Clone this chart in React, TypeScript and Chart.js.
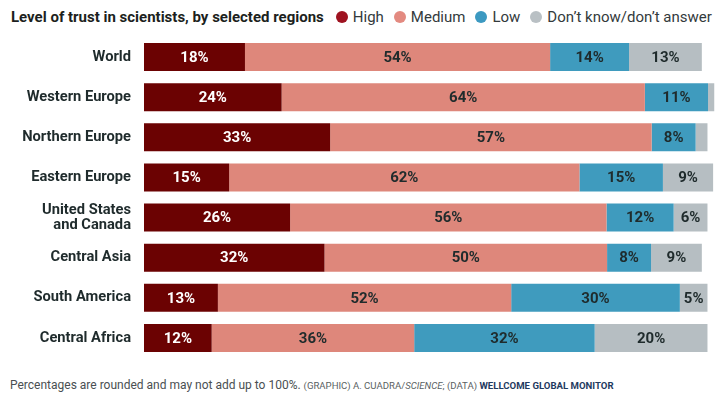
import React, { useEffect, useRef } from "react";
import { Chart, registerables } from "chart.js";

Chart.register(...registerables);

const regions: (string | string[])[] = [
  "World",
  "Western Europe",
  "Northern Europe",
  "Eastern Europe",
  ["United States", "and Canada"],
  "Central Asia",
  "South America",
  "Central Africa",
];

const seriesNames = ["High", "Medium", "Low", "Don\u2019t know/don\u2019t answer"];
const highValues = [17.9, 24.4, 33.0, 15.1, 25.9, 32.0, 13.1, 12.0];
const mediumValues = [54.1, 64.4, 57.0, 62.1, 56.1, 50.1, 52.0, 35.9];
const lowValues = [14.0, 11.2, 7.8, 14.8, 11.9, 7.8, 29.9, 32.0];
const dkValues = [12.9, 1.1, 2.1, 8.9, 6.0, 9.0, 4.9, 20.0];

const barColors = ["#6b0202", "#de877b", "#3f9bbe", "#b6bec2"];
const dotColors = ["#9e1220", "#e38a80", "#3c99c1", "#b9c0c4"];
const labelColors = ["#ffffff", "#1f2b2c", "#1f2b2c", "#1f2b2c"];

const FONT = "Roboto, 'Noto Sans', sans-serif";

const segmentLabels = {
  id: "segmentLabels",
  afterDatasetsDraw(chart: any) {
    const ctx = chart.ctx;
    ctx.save();
    ctx.font = `bold 15px ${FONT}`;
    ctx.textAlign = "center";
    ctx.textBaseline = "middle";
    chart.data.datasets.forEach((ds: any, di: number) => {
      const meta = chart.getDatasetMeta(di);
      meta.data.forEach((bar: any, i: number) => {
        const v = ds.data[i];
        if (v < 4) return;
        const x0 = Math.min(bar.x, bar.base);
        const x1 = Math.max(bar.x, bar.base);
        ctx.fillStyle = labelColors[di];
        ctx.fillText(Math.round(v) + "%", (x0 + x1) / 2, bar.y + 1);
      });
    });
    ctx.restore();
  },
};

export default function App() {
  const ref = useRef<HTMLCanvasElement | null>(null);

  useEffect(() => {
    if (!ref.current) return;
    const values = [highValues, mediumValues, lowValues, dkValues];
    const chart = new Chart(ref.current, {
      type: "bar",
      data: {
        labels: regions,
        datasets: seriesNames.map((name, i) => ({
          label: name,
          data: values[i],
          backgroundColor: barColors[i],
          borderWidth: 0,
          barPercentage: 0.7,
          categoryPercentage: 1,
        })),
      },
      options: {
        indexAxis: "y",
        responsive: false,
        animation: false,
        layout: { padding: { top: 7, right: 3.5, bottom: 0, left: 0 } },
        plugins: {
          legend: { display: false },
          tooltip: { enabled: false },
          title: { display: false },
        },
        scales: {
          x: {
            stacked: true,
            min: 0,
            max: 101.5,
            display: false,
          },
          y: {
            stacked: true,
            grid: { display: false, drawTicks: false },
            border: { display: false },
            afterFit: (s: any) => {
              s.width = 144;
              s.paddingTop = 0;
              s.paddingBottom = 0;
            },
            ticks: {
              padding: 13,
              color: "#1f2b2c",
              font: { family: FONT, size: 14.7, weight: "bold", lineHeight: 1.0 },
            },
          },
        },
      },
      plugins: [segmentLabels],
    });
    return () => chart.destroy();
  }, []);

  return (
    <div
      style={{
        position: "fixed",
        left: 0,
        top: 0,
        width: 720,
        height: 396,
        background: "#ffffff",
        fontFamily: FONT,
        overflow: "hidden",
      }}
    >
      <div
        style={{
          position: "absolute",
          left: 11,
          top: 7,
          display: "flex",
          alignItems: "center",
          whiteSpace: "nowrap",
          height: 20,
        }}
      >
        <span style={{ fontWeight: 700, fontSize: 15, color: "#1c1f20" }}>
          Level of trust in scientists, by selected regions
        </span>
        {seriesNames.map((name, i) => (
          <span
            key={name}
            style={{ display: "flex", alignItems: "center", marginLeft: i === 0 ? 12 : 10 }}
          >
            <span
              style={{
                display: "inline-block",
                width: 12,
                height: 12,
                borderRadius: "50%",
                background: dotColors[i],
                marginRight: 5,
              }}
            />
            <span style={{ fontSize: 15, color: "#333a3c" }}>{name}</span>
          </span>
        ))}
      </div>
      <canvas
        ref={ref}
        width={720}
        height={328}
        style={{ position: "absolute", left: 0, top: 30, width: 720, height: 328 }}
      />
      <div
        style={{
          position: "absolute",
          left: 10,
          top: 374,
          whiteSpace: "nowrap",
          color: "#4a4f52",
        }}
      >
        <span style={{ fontSize: 12 }}>Percentages are rounded and may not add up to 100%. </span>
        <span style={{ fontSize: 9.6, color: "#5a5f62" }}>
          (GRAPHIC) A. CUADRA/<i>SCIENCE</i>; (DATA){" "}
        </span>
        <span style={{ fontSize: 9.6, fontWeight: 700, color: "#1f3a5f" }}>WELLCOME GLOBAL MONITOR</span>
      </div>
    </div>
  );
}
